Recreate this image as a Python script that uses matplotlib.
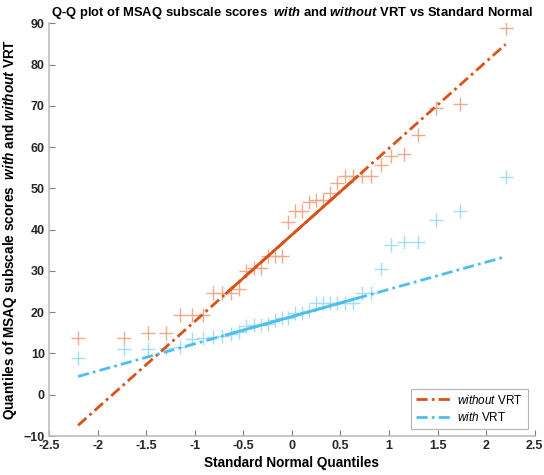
import numpy as np
import matplotlib
matplotlib.use("Agg")
import matplotlib.pyplot as plt
from statistics import NormalDist

plt.rcParams['font.family'] = ['Liberation Sans', 'DejaVu Sans']
plt.rcParams['mathtext.fontset'] = 'custom'
plt.rcParams['mathtext.rm'] = 'Liberation Sans'
plt.rcParams['mathtext.it'] = 'Liberation Sans:italic'
plt.rcParams['mathtext.bf'] = 'Liberation Sans:bold'
plt.rcParams['mathtext.bfit'] = 'Liberation Sans:bold:italic'

# Sorted MSAQ subscale scores (36 subjects each)
without_vrt = [13.7, 13.7, 14.9, 14.9, 19.4, 19.4, 19.4, 24.6, 24.6, 24.6,
               25.7, 29.9, 30.7, 30.7, 33.5, 33.5, 33.5, 41.8, 44.5, 44.5,
               46.7, 47.2, 47.2, 49.0, 51.3, 52.9, 52.9, 52.9, 52.9, 55.7,
               57.8, 58.4, 63.0, 69.4, 70.4, 88.8]
with_vrt = [8.8, 11.1, 11.2, 11.3, 11.5, 13.5, 13.8, 13.9, 14.2, 14.8,
            15.2, 16.7, 16.8, 16.9, 17.2, 18.0, 18.6, 18.6, 19.8, 19.8,
            20.3, 22.2, 22.2, 22.2, 22.2, 22.2, 22.2, 24.6, 24.6, 30.4,
            36.3, 36.9, 36.9, 42.4, 44.5, 52.7]
labels = [r'$\it{without}$ VRT', r'$\it{with}$ VRT']
line_colors = ['#D95319', '#4DBEEE']
marker_colors = ['#F0A98D', '#A6DDF4']

nd = NormalDist()

def qq(data):
    y = np.sort(np.asarray(data, float))
    n = len(y)
    x = np.array([nd.inv_cdf((i - 0.5) / n) for i in range(1, n + 1)])
    # MATLAB-style prctile for quartiles
    pos = (np.arange(1, n + 1) - 0.5) / n
    q1 = np.interp(0.25, pos, y)
    q3 = np.interp(0.75, pos, y)
    xq1, xq3 = nd.inv_cdf(0.25), nd.inv_cdf(0.75)
    slope = (q3 - q1) / (xq3 - xq1)
    icpt = q1 - slope * xq1
    return x, y, slope, icpt, xq1, xq3

fig = plt.figure(figsize=(5.44, 4.75), dpi=100)
ax = fig.add_axes([0.090, 0.082, 0.893, 0.869])

handles = []
for data, lab, lc, mc in zip([without_vrt, with_vrt], labels, line_colors, marker_colors):
    x, y, s, b, xq1, xq3 = qq(data)
    ax.plot(x, y, '+', color=mc, ms=9.5, mew=1.0, zorder=2)
    xe = np.array([x.min(), x.max()])
    h, = ax.plot(xe, s * xe + b, linestyle=(0, (4, 1.5, 1, 1.5)), color=lc, lw=2, zorder=3)
    xs = np.array([xq1, xq3])
    ax.plot(xs, s * xs + b, '-', color=lc, lw=2, zorder=4)
    handles.append((h, lab))

ax.set_xlim(-2.5, 2.5)
ax.set_ylim(-10, 90)
ax.set_xticks(np.arange(-2.5, 2.51, 0.5))
ax.set_xticklabels(['-2.5', '-2', '-1.5', '-1', '-0.5', '0', '0.5', '1', '1.5', '2', '2.5'])
ax.set_yticks(np.arange(-10, 91, 10))
for sp in ['top', 'right']:
    ax.spines[sp].set_visible(False)
for sp in ['left', 'bottom']:
    ax.spines[sp].set_color('#BDBDBD')
    ax.spines[sp].set_linewidth(1.2)
ax.tick_params(direction='in', length=4, color='#7F7F7F', labelsize=9, pad=3)
for t in ax.get_xticklabels() + ax.get_yticklabels():
    t.set_fontweight('bold')
    t.set_color('#262626')

ax.set_title(r'Q-Q plot of MSAQ subscale scores  $\mathbfit{with}$ and $\mathbfit{without}$ VRT vs Standard Normal',
             fontsize=9.35, fontweight='bold', pad=5)
ax.set_xlabel('Standard Normal Quantiles', fontsize=9.8, fontweight='bold', labelpad=3)
ax.set_ylabel(r'Quantiles of MSAQ subscale scores  $\mathbfit{with}$ and $\mathbfit{without}$ VRT',
              fontsize=9.8, fontweight='bold', labelpad=3)

leg = ax.legend([h for h, _ in handles], [l for _, l in handles], loc='lower right',
                fontsize=8.5, frameon=True, fancybox=False, edgecolor='#A0A0A0',
                handlelength=3.0, handletextpad=0.5, borderaxespad=0.6, labelspacing=0.4)
leg.get_frame().set_linewidth(0.8)

fig.savefig('out.png', dpi=100)
